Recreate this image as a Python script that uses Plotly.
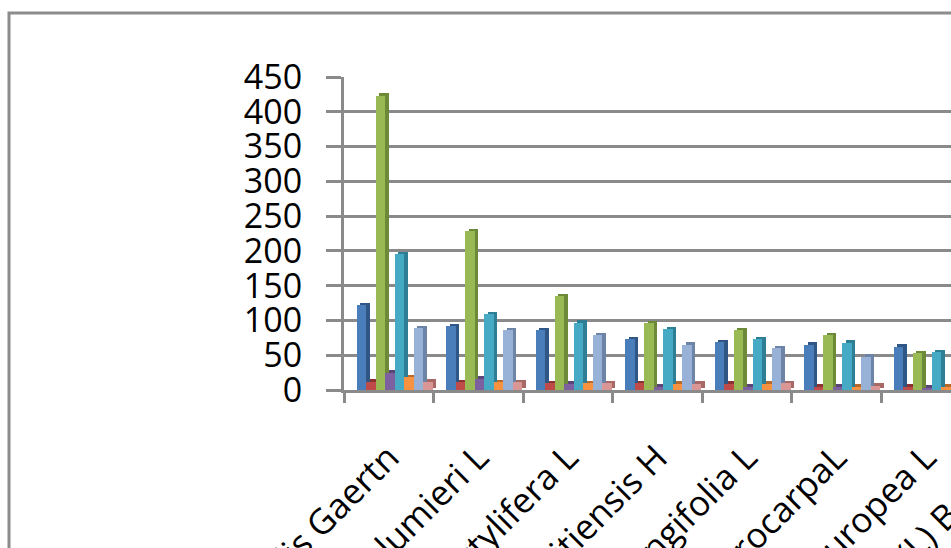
import plotly.graph_objects as go

# ---------------- data ----------------
categories = ["Emblica officinalis Gaertn", "Mimusops plumieri L", "Phoenix dactylifera L",
              "Ziziphus mauritiensis H", "Madhuca longifolia L", "Opuntia macrocarpaL",
              "Olea europea L"]
extra_category = "Hyphaene thebaica (L) Benth"

series_names = ["Series1", "Series2", "Series3", "Series4",
                "Series5", "Series6", "Series7", "Series8"]
s1 = [122, 92, 86, 73, 69, 65, 62]
s2 = [12, 11, 10, 10, 9, 5, 5]
s3 = [423, 228, 135, 96, 86, 79, 53]
s4 = [25, 16, 9, 5, 5, 5, 3]
s5 = [195, 109, 97, 87, 73, 68, 54]
s6 = [18, 11, 10, 9, 9, 5, 5]
s7 = [89, 86, 79, 65, 60, 48, 40]
s8 = [12, 11, 10, 9, 10, 6, 5]
series_values = [s1, s2, s3, s4, s5, s6, s7, s8]

y_ticks = [0, 50, 100, 150, 200, 250, 300, 350, 400, 450]

# ---------------- style ----------------
front = ["#4A7EBB", "#BE4B48", "#98B954", "#7D60A0", "#46AAC5", "#F69240", "#98B1D6", "#D99694"]
side = ["#2F5685", "#8B3331", "#6C8A38", "#5A4478", "#2E7F95", "#B8692C", "#6E84A6", "#A86866"]
GRID = "#8A8A8A"
W, H = 951, 548
ML, MR, MT, MB = 344, 0, 77, 158
plot_w = W - ML - MR
plot_h = H - MT - MB
cat_px = 89.5
x_hi = (plot_w / cat_px) - 0.5
y_lo, y_hi = 0, 450
px_per_unit = plot_h / (y_hi - y_lo)

bar_w = 9.5 / cat_px
group_start = -0.358
depth_dx = 3.5 / cat_px
depth_dy = 2.5 / px_per_unit

fig = go.Figure()
for k, (name, vals) in enumerate(zip(series_names, series_values)):
    off = group_start + k * bar_w
    fig.add_trace(go.Bar(
        x=categories, y=vals, base=depth_dy, offset=off + depth_dx, width=bar_w,
        marker=dict(color=side[k], line=dict(width=0)), showlegend=False, hoverinfo="skip"))
    fig.add_trace(go.Bar(
        x=categories, y=vals, offset=off, width=bar_w, name=name,
        marker=dict(color=front[k], line=dict(width=0)), showlegend=False))

def px2paper_x(px):
    return (px - ML) / plot_w

def px2paper_y(py):
    return (H - MB - py) / plot_h

fig.add_shape(type="rect", xref="paper", yref="paper",
              x0=px2paper_x(9), x1=px2paper_x(W + 40),
              y0=px2paper_y(H + 40), y1=px2paper_y(13),
              line=dict(color="#8C8C8C", width=3), layer="below")

FONT = "Open Sans"
XFONT = 35
fig.add_annotation(text=extra_category, xref="paper", yref="paper",
                   x=px2paper_x(ML + cat_px * 7.5 + 9), y=px2paper_y(436),
                   xanchor="right", yanchor="top", textangle=-45, showarrow=False,
                   font=dict(family=FONT, size=XFONT, color="black"))

fig.update_layout(
    width=W, height=H, barmode="overlay", bargap=0,
    margin=dict(l=ML, r=MR, t=MT, b=MB, autoexpand=False),
    paper_bgcolor="white", plot_bgcolor="white",
    font=dict(family=FONT, color="black"),
)
fig.update_xaxes(
    type="category", categoryorder="array", categoryarray=categories,
    range=[-0.5, x_hi], showgrid=False, showline=True, linecolor=GRID, linewidth=3,
    ticks="outside", tickson="boundaries", ticklen=10, tickwidth=3, tickcolor=GRID,
    tickangle=-45, tickfont=dict(family=FONT, size=XFONT, color="black"),
    ticklabelstandoff=30, automargin=False,
)
fig.update_yaxes(
    range=[y_lo, y_hi], tickvals=y_ticks, showgrid=True, gridcolor=GRID, gridwidth=3,
    showline=True, linecolor=GRID, linewidth=3, zeroline=False,
    ticks="outside", ticklen=15, tickwidth=3, tickcolor=GRID,
    tickfont=dict(family=FONT, size=34, color="black"),
    ticklabelstandoff=17, automargin=False,
)

fig.write_html("out.html")
